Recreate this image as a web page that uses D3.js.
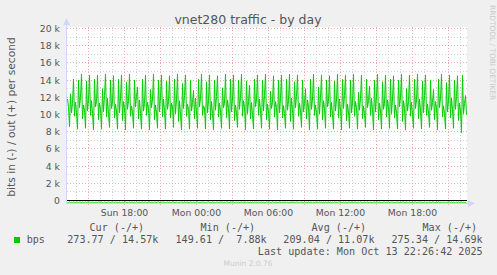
<!DOCTYPE html>
<html><head><meta charset="utf-8">
<script src="https://cdn.jsdelivr.net/npm/d3@7"></script>
<style>html,body{margin:0;padding:0;background:#F0F0F0;} svg{display:block;}</style>
</head><body><svg id="c" width="497" height="275"></svg>
<script>
// ---------- data ----------
const chartTitle = "vnet280 traffic - by day";
const yAxisLabel = "bits in (-) / out (+) per second";
const yTickValues = [0, 2000, 4000, 6000, 8000, 10000, 12000, 14000, 16000, 18000, 20000];
const yTickLabels = ["0", "2 k", "4 k", "6 k", "8 k", "10 k", "12 k", "14 k", "16 k", "18 k", "20 k"];
const xTickLabels = ["Sun 18:00", "Mon 00:00", "Mon 06:00", "Mon 12:00", "Mon 18:00"];
const startTime = Date.UTC(2025, 9, 12, 13, 12, 30);
const spanSeconds = 120000;
const stepSeconds = 300;
const seriesName = "bps";
const legendHeaders = ["Cur (-/+)", "Min (-/+)", "Avg (-/+)", "Max (-/+)"];
const legendValues = ["273.77 / 14.57k", "149.61 /  7.88k", "209.04 / 11.07k", "275.34 / 14.69k"];
const lastUpdate = "Last update: Mon Oct 13 22:26:42 2025";
const footer = "Munin 2.0.76";
const sideText = "RRDTOOL / TOBI OETIKER";
// out (+) in k bits/s, one value per 5 minutes
const outValues = [
11.8,10.9,8.6,12.4,10.2,11.3,14.1,9.8,
11.4,10.2,8.3,14.0,10.8,12.0,14.7,9.5,
11.1,10.5,8.4,13.9,10.4,11.7,14.6,9.9,
11.6,10.1,8.2,14.1,10.9,11.5,14.6,9.4,
11.3,10.6,8.3,13.0,10.3,12.2,14.7,9.7,
11.9,10.0,8.5,14.0,10.7,11.4,14.5,9.6,
11.2,10.4,8.3,14.1,10.2,11.9,14.6,9.3,
11.5,10.8,8.2,13.8,10.6,11.6,14.7,9.8,
11.0,10.3,8.4,14.0,10.9,12.1,13.2,9.5,
11.7,10.1,8.3,14.1,10.4,11.3,14.6,9.9,
11.4,10.7,8.2,12.9,10.8,11.8,14.7,9.4,
11.1,10.2,8.4,14.0,10.3,12.0,14.6,9.7,
11.8,10.5,8.3,13.9,10.6,11.5,14.5,9.6,
11.3,10.9,8.5,14.1,10.1,11.7,14.7,9.2,
11.6,10.0,8.2,13.6,10.7,12.2,14.6,9.8,
11.2,10.6,8.3,14.0,10.4,11.4,12.8,9.5,
11.9,10.3,8.4,14.1,10.9,11.9,14.7,9.9,
11.0,10.8,8.3,13.8,10.2,11.6,14.6,9.4,
11.5,10.1,8.2,14.0,10.5,12.1,14.5,9.7,
11.3,10.4,8.4,13.1,10.8,11.3,14.7,9.6,
11.7,10.7,8.3,14.1,10.3,11.8,14.6,9.3,
11.1,10.2,8.5,14.0,10.6,12.0,14.7,9.8,
11.6,10.9,8.2,13.9,10.1,11.5,13.4,9.5,
11.4,10.0,8.3,14.1,10.9,11.7,14.6,9.9,
11.8,10.5,8.4,14.0,10.4,12.2,14.7,9.4,
11.2,10.3,8.3,12.7,10.7,11.4,14.5,9.7,
11.5,10.8,8.2,14.0,10.2,11.9,14.6,9.6,
11.0,10.1,8.4,14.1,10.5,11.6,14.7,9.2,
11.9,10.6,8.3,13.8,10.8,12.1,14.6,9.8,
11.3,10.4,8.5,14.0,10.3,11.3,13.0,9.5,
11.7,10.9,8.2,14.1,10.6,11.8,14.7,9.9,
11.1,10.2,8.3,13.2,10.1,12.0,14.6,9.4,
11.6,10.7,8.4,14.0,10.9,11.5,14.5,9.7,
11.4,10.0,8.3,13.9,10.4,11.7,14.7,9.6,
11.8,10.5,8.2,14.1,10.7,12.2,14.6,9.3,
11.2,10.3,8.4,14.0,10.2,11.4,14.7,9.8,
11.5,10.8,8.3,12.6,10.5,11.9,14.6,9.5,
11.0,10.1,8.5,14.1,10.8,11.6,13.3,9.9,
11.9,10.6,8.2,14.0,10.3,12.1,14.7,9.4,
11.3,10.4,8.3,13.8,10.6,11.3,14.6,9.7,
11.7,10.9,8.4,14.1,10.1,11.8,14.5,9.6,
11.1,10.2,8.3,14.0,10.9,12.0,14.7,9.2,
11.6,10.7,8.2,13.0,10.4,11.5,14.6,9.8,
11.4,10.0,8.4,14.1,10.7,11.7,14.7,9.5,
11.8,10.5,8.3,13.9,10.2,12.2,14.6,9.9,
11.2,10.3,8.5,14.0,10.5,11.4,12.9,9.4,
11.5,10.8,8.2,14.1,10.8,11.9,14.7,9.7,
11.0,10.1,8.3,13.7,10.3,11.6,14.6,9.6,
11.9,10.6,8.4,14.0,10.6,12.1,14.5,9.3,
11.3,10.4,7.9,14.6,10.1,11.3,12.2,10.0
];
// in (-) in k bits/s, one value per 5 minutes
const inValues = [
.21,.24,.18,.26,.20,.23,.17,.22, .25,.19,.22,.27,.18,.21,.24,.20,
.22,.26,.17,.23,.20,.25,.19,.21, .24,.18,.22,.26,.21,.20,.23,.17,
.20,.25,.19,.22,.27,.18,.21,.24, .23,.17,.22,.25,.20,.19,.26,.21,
.18,.23,.21,.24,.19,.22,.27,.20, .25,.20,.17,.23,.22,.26,.18,.21,
.22,.19,.24,.20,.26,.17,.23,.21, .20,.24,.22,.18,.25,.21,.19,.27,
.23,.21,.18,.24,.20,.22,.26,.19, .21,.25,.20,.17,.23,.24,.22,.18,
.19,.22,.26,.21,.18,.24,.20,.23, .24,.17,.21,.25,.22,.19,.27,.20,
.22,.26,.19,.20,.24,.18,.23,.21, .20,.23,.25,.18,.21,.26,.19,.22,
.25,.20,.17,.24,.22,.21,.23,.19, .18,.24,.22,.26,.20,.17,.25,.21,
.23,.19,.21,.22,.27,.20,.18,.24, .21,.25,.20,.19,.23,.22,.26,.17,
.20,.22,.24,.18,.21,.25,.19,.23, .26,.18,.22,.20,.24,.21,.17,.25,
.19,.23,.21,.27,.18,.22,.24,.20, .22,.20,.25,.17,.23,.26,.21,.19,
.24,.21,.18,.22,.20,.25,.23,.18, .21,.26,.19,.24,.22,.17,.20,.23,
.18,.22,.25,.21,.19,.24,.27,.20, .23,.19,.21,.26,.18,.22,.24,.21,
.20,.25,.22,.18,.23,.20,.17,.24, .26,.21,.19,.22,.25,.18,.23,.20,
.22,.18,.24,.20,.21,.27,.19,.23, .19,.24,.21,.25,.17,.22,.20,.26,
.21,.23,.18,.22,.24,.20,.25,.19, .24,.20,.26,.17,.22,.21,.23,.18,
.18,.25,.21,.23,.19,.26,.20,.22, .23,.21,.17,.24,.20,.25,.22,.19,
.20,.22,.24,.19,.27,.18,.21,.25, .25,.19,.22,.21,.18,.23,.26,.20,
.22,.26,.20,.18,.24,.21,.19,.23, .19,.23,.25,.22,.20,.17,.24,.21,
.21,.18,.23,.26,.19,.22,.20,.24, .24,.20,.18,.22,.25,.21,.23,.17,
.20,.24,.22,.19,.21,.26,.18,.23, .23,.21,.25,.20,.17,.24,.22,.19,
.18,.22,.20,.24,.23,.19,.27,.21, .22,.25,.19,.21,.24,.18,.20,.26,
.25,.20,.23,.17,.22,.21,.24,.19, .21,.19,.26,.23,.20,.22,.18,.25,
.19,.24,.21,.22,.26,.20,.23,.18, .23,.20,.18,.25,.21,.24,.22,.27
];

// ---------- layout ----------
const W = 497, H = 275;
const plotL = 67, plotR = 467, plotT = 27, plotB = 204;
const svg = d3.select("#c");
svg.append("rect").attr("width", W).attr("height", H).attr("fill", "#F0F0F0");

const x = d3.scaleUtc()
  .domain([new Date(startTime), new Date(startTime + spanSeconds * 1000)])
  .range([plotL, plotR]);
const y = d3.scaleLinear().domain([0, 20000]).range([200.5, 28.5]);
const snap = v => Math.floor(v) + 0.5;

svg.append("rect").attr("x", plotL).attr("y", plotT).attr("width", plotR - plotL).attr("height", plotB - plotT).attr("fill", "#FFFFFF");

const grid = svg.append("g");
const minorCol = "#D2D2D2", majorCol = "#F2AAAA";
// minor horizontal (1k)
const yMinor = d3.range(1000, 20001, 2000);
grid.selectAll(".hm").data(yMinor).join("line")
  .attr("x1", plotL).attr("x2", plotR).attr("y1", d => snap(y(d))).attr("y2", d => snap(y(d)))
  .attr("stroke", minorCol).attr("stroke-dasharray", "1,2");
// minor vertical (1h)
const hours = x.ticks(d3.utcHour.every(1));
grid.selectAll(".vm").data(hours.filter(d => d.getUTCHours() % 3 !== 0)).join("line")
  .attr("x1", d => snap(x(d))).attr("x2", d => snap(x(d))).attr("y1", plotT).attr("y2", plotB)
  .attr("stroke", minorCol).attr("stroke-dasharray", "1,2");
// major horizontal
grid.selectAll(".hM").data(yTickValues.filter(d => d > 0)).join("line")
  .attr("x1", plotL).attr("x2", plotR).attr("y1", d => snap(y(d))).attr("y2", d => snap(y(d)))
  .attr("stroke", majorCol).attr("stroke-dasharray", "1,2");
// major vertical (3h)
const majors = x.ticks(d3.utcHour.every(3));
grid.selectAll(".vM").data(majors).join("line")
  .attr("x1", d => snap(x(d))).attr("x2", d => snap(x(d))).attr("y1", plotT).attr("y2", plotB + 2)
  .attr("stroke", majorCol).attr("stroke-dasharray", "1,2");

// ---------- series ----------
const tOf = i => new Date(startTime + i * stepSeconds * 1000);
const lineOut = d3.line().x((d, i) => x(tOf(i)) + 0.5).y(d => y(d * 1000));
const lineIn = d3.line().x((d, i) => x(tOf(i)) + 0.5).y(d => y(-d * 1000));
svg.append("path").attr("d", lineOut(outValues)).attr("fill", "none").attr("stroke", "#00CC00").attr("stroke-width", 1);
// zero line
svg.append("line").attr("x1", plotL).attr("x2", plotR).attr("y1", snap(y(0))).attr("y2", snap(y(0))).attr("stroke", "#000").attr("stroke-width", 1);
svg.append("path").attr("d", lineIn(inValues)).attr("fill", "none").attr("stroke", "#00CC00").attr("stroke-width", 1);

// ---------- axes ----------
const axisColor = "#CFD6F8";
svg.append("line").attr("x1", 66.5).attr("x2", 66.5).attr("y1", plotB).attr("y2", 22).attr("stroke", axisColor);
svg.append("path").attr("d", "M63,25 L66.5,18 L70,25 Z").attr("fill", axisColor);
svg.append("line").attr("x1", 66).attr("x2", 471).attr("y1", 203.5).attr("y2", 203.5).attr("stroke", axisColor);
svg.append("path").attr("d", "M468,200 L475,203.5 L468,207 Z").attr("fill", axisColor);

const txt = "#555555";
svg.append("g").selectAll("text").data(yTickValues).join("text")
  .attr("x", 60).attr("y", d => snap(y(d)) + 3.3)
  .attr("text-anchor", "end").attr("font-family", "DejaVu Sans").attr("font-size", 9.3).attr("fill", txt)
  .text((d, i) => yTickLabels[i]);

const labTicks = x.ticks(d3.utcHour.every(6));
svg.append("g").selectAll("text").data(labTicks).join("text")
  .attr("x", d => snap(x(d))).attr("y", 216)
  .attr("text-anchor", "middle").attr("font-family", "DejaVu Sans").attr("font-size", 9.3).attr("fill", txt)
  .text((d, i) => xTickLabels[i]);

// titles
svg.append("text").attr("x", 248).attr("y", 24).attr("text-anchor", "middle")
  .attr("font-family", "DejaVu Sans").attr("font-size", 12.5).attr("fill", txt).text(chartTitle);
svg.append("text").attr("transform", "translate(15,117) rotate(-90)").attr("text-anchor", "middle")
  .attr("font-family", "DejaVu Sans").attr("font-size", 10.7).attr("fill", txt).text(yAxisLabel);
svg.append("text").attr("transform", "translate(489.5,5) rotate(90)").attr("text-anchor", "start")
  .attr("font-family", "DejaVu Sans").attr("font-size", 7.4).attr("fill", "#C8C8C8").text(sideText);

// ---------- legend ----------
const mono = "DejaVu Sans Mono";
svg.append("rect").attr("x", 14).attr("y", 237).attr("width", 6).attr("height", 6).attr("fill", "#00CC00");
svg.append("text").attr("x", 26.7).attr("y", 243).attr("font-family", mono).attr("font-size", 10.1).attr("fill", txt).text(seriesName);
const headX = [89.5, 200.5, 311.5, 422.5];
svg.append("g").selectAll("text").data(legendHeaders).join("text")
  .attr("x", (d, i) => headX[i]).attr("y", 230.5)
  .attr("font-family", mono).attr("font-size", 10.1).attr("fill", txt).style("white-space", "pre").text(d => d);
const valEnd = [158.4, 266.7, 374.5, 482.7];
svg.append("g").selectAll("text").data(legendValues).join("text")
  .attr("x", (d, i) => valEnd[i]).attr("y", 243).attr("text-anchor", "end")
  .attr("font-family", mono).attr("font-size", 10.1).attr("fill", txt).style("white-space", "pre").text(d => d);
svg.append("text").attr("x", 482.7).attr("y", 255).attr("text-anchor", "end")
  .attr("font-family", mono).attr("font-size", 10.1).attr("fill", txt).text(lastUpdate);
svg.append("text").attr("x", 248).attr("y", 266).attr("text-anchor", "middle")
  .attr("font-family", "DejaVu Sans").attr("font-size", 7.5).attr("fill", "#CCCCCC").text(footer);
</script></body></html>
